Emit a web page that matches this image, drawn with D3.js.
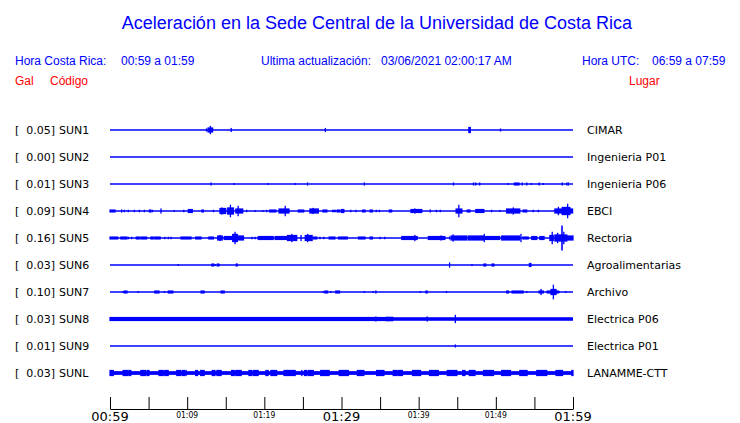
<!DOCTYPE html>
<html><head><meta charset="utf-8">
<script src="https://cdn.jsdelivr.net/npm/d3@7"></script>
<style>html,body{margin:0;padding:0;background:#fff;}svg{display:block;}</style>
</head><body>
<script>
// ---------- data ----------
const stations = ["SUN1","SUN2","SUN3","SUN4","SUN5","SUN6","SUN7","SUN8","SUN9","SUNL"];
const places = ["CIMAR","Ingenieria P01","Ingenieria P06","EBCI","Rectoria","Agroalimentarias","Archivo","Electrica P06","Electrica P01","LANAMME-CTT"];
const peakGal = ["0.05","0.00","0.01","0.09","0.16","0.03","0.10","0.03","0.01","0.03"];
// background noise level (relative amplitude) per station
const noiseLevel = [0,0,0,0,0,0,0,1.7,0,1.8];
const tickMinutes = [0,5,10,15,20,25,30,35,40,45,50,55,60];
const labelMinutes = [0,10,20,30,40,50,60];
const labelTexts = ["00:59","01:09","01:19","01:29","01:39","01:49","01:59"];
const labelMajor = [true,false,false,true,false,false,true];

// events: [start minute, end minute, relative amplitude] (minutes after 00:59)
const evSUN1 = [[12.5,12.5,1.5],[12.7,13.3,2.5],[13.0,13.0,4],[15.7,15.7,2],[27.9,27.9,2],[46.5,46.7,3],[50.6,50.6,1.5]];
const evSUN2 = [];
const evSUN3 = [[13.1,13.1,1.5],[16.1,16.1,1],[20.5,20.5,1],[24.0,24.0,1],[25.6,25.6,1.5],[32.95,32.95,1.5],[44.5,44.5,1.5],[47.1,47.1,1.5],[47.4,47.4,1.5],[47.9,47.9,1.5],[51.6,51.6,1],[52.4,53.0,1.5],[53.4,53.4,1.5],[54.0,54.0,1.5],[54.6,54.6,1],[55.6,55.6,1.5],[56.15,56.15,1],[58.6,58.6,1.5],[59.2,59.2,1.5],[59.4,59.4,1.5]];
const evSUN4 = [[0.0,0.65,1.5],[1.5,1.5,1.5],[1.85,1.85,1.2],[2.37,2.37,1.2],[3.15,3.15,1.2],[3.8,3.8,1.2],[4.45,4.45,1.2],[5.1,5.3,1.5],[5.5,5.5,1.2],[6.6,6.6,2.5],[8.33,8.33,1],[9.55,9.55,1.2],[10.15,10.67,2],[11.9,12.1,1.5],[13.4,13.4,1.2],[14.25,15.0,3],[14.5,14.5,3.5],[15.25,16.0,3.5],[15.6,15.6,6],[16.3,17.2,2.5],[16.6,16.6,5],[17.7,17.7,1.2],[18.8,18.8,1],[19.8,19.8,1],[20.3,20.3,1.2],[20.7,21.5,1.5],[21.9,23.2,2.5],[22.7,22.7,5],[24.4,25.1,1.5],[25.9,27.0,2.5],[26.3,26.3,3],[27.6,28.1,1.5],[28.85,29.25,1.2],[29.45,29.8,1.5],[30.0,30.3,2],[31.2,31.2,1.2],[31.85,31.85,1.2],[32.75,33.05,1.5],[33.7,34.0,1.5],[34.5,34.5,1.2],[34.9,34.9,1.2],[36.2,36.5,1.5],[39.0,40.4,2],[39.5,39.5,2.5],[41.5,41.5,1.5],[42.3,42.3,1.2],[42.8,42.8,1.2],[44.85,45.6,2.5],[45.2,45.2,6],[46.3,46.65,1.5],[47.4,48.45,2],[49.45,49.45,1.2],[50.5,50.5,1],[51.4,53.1,2.5],[52.25,52.25,3.5],[53.55,54.0,1.5],[54.85,54.85,1.2],[55.5,55.5,1.2],[57.65,59.95,2.5],[58.1,58.1,4],[58.6,59.6,4],[59.3,59.3,7]];
const evSUN5 = [[0.0,1.0,1.5],[1.4,2.2,1.5],[2.4,2.4,1.2],[2.8,2.8,1.2],[3.4,3.8,1.5],[4.0,4.75,1.5],[5.3,5.6,1.5],[5.8,6.5,1.5],[7.1,7.1,1.2],[7.55,7.55,1.2],[7.9,7.9,1.2],[9.2,10.5,1.5],[11.1,11.8,1.5],[12.8,13.4,1.5],[13.95,14.55,2.5],[14.25,14.25,3],[14.8,15.9,2],[15.9,16.5,4],[16.2,16.2,6],[16.5,17.3,2.5],[18.4,18.4,1.2],[18.8,18.8,1.2],[19.2,21.15,2],[21.4,22.9,2],[23.0,24.2,3],[23.55,23.55,4],[24.75,24.75,3],[25.3,26.2,3],[25.6,25.6,4],[26.35,26.8,1.5],[27.2,27.2,1.2],[27.7,27.7,1.2],[28.4,29.15,1.5],[29.6,30.75,1.5],[32.2,33.05,1.5],[33.7,34.0,1.5],[35.0,35.0,1.2],[35.6,35.6,1.2],[37.8,39.8,2],[39.5,39.5,3],[41.25,43.4,2],[42.9,42.9,2.5],[44.0,44.0,1.5],[44.2,46.2,2.5],[44.45,44.45,3.5],[46.4,48.4,2.5],[48.5,48.5,4],[48.6,50.5,2],[50.75,53.1,2.5],[53.25,53.25,4],[53.5,54.2,1.5],[54.65,55.3,2],[55.7,56.25,2],[57.0,57.45,3],[57.3,57.3,6],[57.65,59.2,3.5],[58.0,58.0,5],[58.55,58.6,12],[58.8,58.8,6],[59.2,60.0,2.5]];
const evSUN6 = [[8.85,8.85,1],[13.2,13.45,1.5],[13.65,13.65,1],[13.9,14.1,1.5],[14.15,14.15,1],[16.35,16.5,1.5],[44.0,44.0,2.5],[46.9,46.9,1],[48.45,48.7,1.5],[49.5,49.75,1.5],[54.35,54.55,2]];
const evSUN7 = [[1.7,1.7,1],[1.85,2.2,1.5],[3.65,3.65,1],[5.8,6.35,1.5],[7.05,7.05,1],[7.55,8.15,1.5],[11.8,12.2,1.5],[14.4,14.8,1.5],[27.65,27.65,1],[27.85,28.2,1.5],[28.6,28.6,1],[29.25,29.75,1.5],[32.95,32.95,1],[34.1,34.1,1],[34.45,34.45,1.5],[40.2,40.2,1],[40.95,41.1,1.5],[43.6,43.6,1],[51.4,51.65,1.5],[52.1,53.55,1.5],[54.0,54.0,1],[55.6,56.15,1.5],[55.85,55.85,3],[56.65,57.25,1.5],[57.15,57.8,3],[57.45,57.45,7],[57.65,58.1,1.5],[58.2,58.2,1],[59.05,59.05,1]];
const evSUN8 = [[0.0,36.0,2],[34.45,34.45,2.5],[35.85,36.65,2.2],[41.1,41.1,2.5],[44.75,44.75,4]];
const evSUN9 = [[44.75,44.75,1.5]];
const evSUNL = [[0.0,0.43,3],[1.7,2.3,3],[2.45,2.7,3],[4.0,4.2,3],[4.3,4.6,3],[4.8,5.05,3],[6.35,6.9,3],[7.1,7.55,3],[8.65,9.15,3],[9.35,9.7,3],[9.85,9.85,3],[11.1,11.35,3],[11.75,12.2,3],[13.25,13.6,3],[13.85,14.4,3],[15.75,16.1,3],[16.3,17.0,3],[18.0,18.35,3],[18.55,19.2,3],[20.2,20.5,3],[20.85,21.6,3],[22.55,23.0,3],[23.1,24.0,3],[24.85,24.85,3],[25.2,25.5,3],[25.7,26.35,3],[27.3,27.65,3],[27.75,28.4,3],[29.7,30.0,3],[30.1,30.9,3],[32.05,32.9,3],[34.55,35.5,3],[36.7,37.2,3],[37.35,37.9,3],[39.2,40.25,3],[41.4,42.55,3],[43.7,44.95,3],[45.7,46.0,3],[46.55,47.3,3],[48.4,49.7,3],[50.75,51.9,3],[53.1,54.05,3],[55.3,56.6,3],[57.8,58.65,3],[59.85,60.0,3]];
const events = [evSUN1,evSUN2,evSUN3,evSUN4,evSUN5,evSUN6,evSUN7,evSUN8,evSUN9,evSUNL];

// ---------- drawing ----------
const W = 740, H = 423;
const BLUE = "#0000ff", RED = "#ff0000";
const svg = d3.select("body").append("svg").attr("width", W).attr("height", H);

const x = d3.scaleLinear().domain([0, 60]).range([110, 573]);
const y = d3.scalePoint().domain(stations).range([130, 373]);
const amp = d3.scaleLinear().domain([0, 12]).range([0, 12.5]);

// title & header
svg.append("text").attr("x", 377).attr("y", 29).attr("text-anchor", "middle")
  .attr("font-family", "Liberation Sans, Arial, sans-serif").attr("font-size", 18)
  .attr("fill", BLUE).text("Aceleración en la Sede Central de la Universidad de Costa Rica");

const hdr = [
  [15, "Hora Costa Rica:"], [121, "00:59 a 01:59"],
  [261, "Ultima actualización:"], [381, "03/06/2021 02:00:17 AM"],
  [582, "Hora UTC:"], [652, "06:59 a 07:59"]
];
svg.selectAll("text.hdr").data(hdr).enter().append("text").attr("class", "hdr")
  .attr("x", d => d[0]).attr("y", 65)
  .attr("font-family", "Liberation Sans, Arial, sans-serif").attr("font-size", 12)
  .attr("fill", BLUE).text(d => d[1]);

const red = [[15, "Gal"], [50, "Código"], [629, "Lugar"]];
svg.selectAll("text.red").data(red).enter().append("text").attr("class", "red")
  .attr("x", d => d[0]).attr("y", 85)
  .attr("font-family", "Liberation Sans, Arial, sans-serif").attr("font-size", 12)
  .attr("fill", RED).text(d => d[1]);

// rows
const rows = svg.selectAll("g.row").data(stations).enter().append("g").attr("class", "row");
const lblFont = "DejaVu Sans, sans-serif";
rows.append("text").attr("x", 15).attr("y", d => y(d) + 4)
  .attr("font-family", lblFont).attr("font-size", 11).attr("fill", "#000").text("[");
rows.append("text").attr("x", 55).attr("y", d => y(d) + 4).attr("text-anchor", "end")
  .attr("font-family", lblFont).attr("font-size", 11).attr("fill", "#000")
  .text((d, i) => peakGal[i] + "]");
rows.append("text").attr("x", 59).attr("y", d => y(d) + 4)
  .attr("font-family", lblFont).attr("font-size", 11).attr("fill", "#000").text(d => d);
rows.append("text").attr("x", 587).attr("y", d => y(d) + 4)
  .attr("font-family", lblFont).attr("font-size", 11).attr("fill", "#000")
  .text((d, i) => places[i]);

// baselines
rows.append("line").attr("x1", x(0)).attr("x2", x(60))
  .attr("y1", d => y(d)).attr("y2", d => y(d))
  .attr("stroke", BLUE).attr("stroke-width", 1.3);

// noise bands
rows.filter((d, i) => noiseLevel[i] > 0).append("rect")
  .attr("x", x(0)).attr("width", x(60) - x(0))
  .attr("y", d => y(d) - amp(noiseLevel[stations.indexOf(d)]))
  .attr("height", d => 2 * amp(noiseLevel[stations.indexOf(d)]))
  .attr("fill", BLUE);

// events
stations.forEach((s, i) => {
  const cy = y(s);
  svg.append("g").selectAll("rect").data(events[i]).enter().append("rect")
    .attr("x", d => x(d[0]) - 0.6)
    .attr("width", d => Math.max(1.3, x(d[1]) - x(d[0]) + 1.2))
    .attr("y", d => cy - amp(d[2]))
    .attr("height", d => 2 * amp(d[2]))
    .attr("fill", BLUE);
});

// time axis
const axisY = 409;
const axis = d3.axisTop(x).tickValues(tickMinutes).tickSize(12).tickSizeOuter(0).tickFormat("");
const gAxis = svg.append("g").attr("transform", `translate(0,${axisY})`).call(axis);
gAxis.selectAll("path, line").attr("stroke", "#000").attr("stroke-width", 1);

svg.selectAll("text.tl").data(labelMinutes).enter().append("text").attr("class", "tl")
  .attr("x", d => x(d)).attr("y", (d, i) => labelMajor[i] ? 421 : 418)
  .attr("text-anchor", "middle")
  .attr("font-family", (d, i) => labelMajor[i] ? "DejaVu Sans, sans-serif" : "DejaVu Sans Condensed, DejaVu Sans, sans-serif")
  .attr("font-size", (d, i) => labelMajor[i] ? 13 : 8.5)
  .attr("fill", "#000")
  .text((d, i) => labelTexts[i]);
</script>
</body></html>
